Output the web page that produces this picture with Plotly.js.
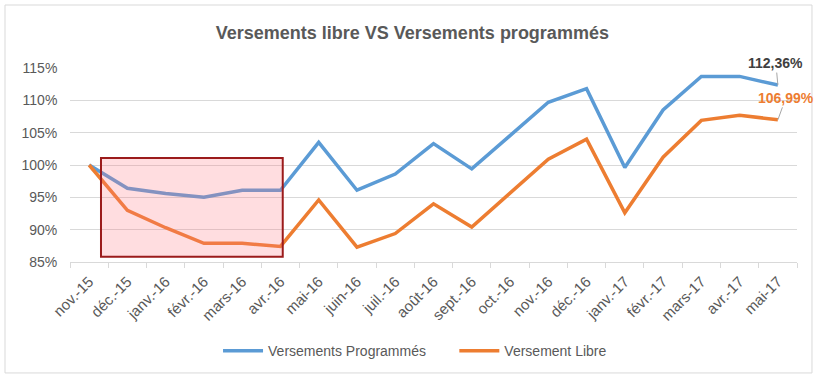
<!DOCTYPE html>
<html>
<head>
<meta charset="utf-8">
<script src="https://cdn.plot.ly/plotly-3.0.1.min.js"></script>
<style>html,body{margin:0;padding:0;background:#fff;}#chart{width:833px;height:381px;}</style>
</head>
<body>
<div id="chart"></div>
<script>
const months = ["nov.-15","déc.-15","janv.-16","févr.-16","mars-16","avr.-16","mai-16","juin-16","juil.-16","août-16","sept.-16","oct.-16","nov.-16","déc.-16","janv.-17","févr.-17","mars-17","avr.-17","mai-17"];
const programmes = [100.0, 96.4, 95.6, 95.0, 96.1, 96.1, 103.5, 96.1, 98.6, 103.3, 99.4, 104.6, 109.7, 111.8, 99.6, 108.5, 113.7, 113.7, 112.36];
const libre = [100.0, 93.0, 90.3, 87.9, 87.9, 87.4, 94.6, 87.3, 89.4, 94.0, 90.4, 95.7, 100.9, 104.0, 92.6, 101.2, 106.9, 107.7, 106.99];
const yTicks = [85, 90, 95, 100, 105, 110, 115];
const yTickText = ["85%", "90%", "95%", "100%", "105%", "110%", "115%"];
const labelProg = "112,36%";
const labelLibre = "106,99%";
const seriesNames = ["Versements Programmés", "Versement Libre"];

const FONT = "Arial, 'Liberation Sans', sans-serif";
const GRAY = "#595959";
const PAD = "\u00a0\u00a0\u00a0";

const traces = [
  {x: months, y: programmes, type: "scatter", mode: "lines", name: seriesNames[0] + "&nbsp;&nbsp;&nbsp;&nbsp;&nbsp;&nbsp;",
   line: {color: "#5b9bd5", width: 3.5}},
  {x: months, y: libre, type: "scatter", mode: "lines", name: seriesNames[1],
   line: {color: "#ed7d31", width: 3.5}}
];

const layout = {
  width: 833, height: 381,
  margin: {l: 70, r: 36, t: 68, b: 119},
  paper_bgcolor: "#fff", plot_bgcolor: "#fff",
  font: {family: FONT, color: GRAY, size: 13},
  title: {text: "<b>Versements libre VS Versements programmés</b>", x: 0.495, xanchor: "center", y: 0.915, yanchor: "middle",
          font: {family: FONT, size: 18, color: GRAY}},
  xaxis: {type: "category", range: [-0.5, 18.5], tickangle: -45, showgrid: false, zeroline: false,
          showline: true, linecolor: "#d9d9d9", linewidth: 1, ticks: "outside", ticklen: 5, tickcolor: "#d9d9d9",
          tickson: "boundaries", ticklabelstandoff: 4, tickfont: {family: FONT, size: 15, color: GRAY}, fixedrange: true},
  yaxis: {range: [85, 115], tickvals: yTicks, ticktext: yTickText.map(t => t + PAD), showgrid: true, gridcolor: "#d9d9d9", gridwidth: 1,
          zeroline: false, showline: false, ticks: "",
          tickfont: {family: FONT, size: 14, color: GRAY}, fixedrange: true},
  showlegend: true,
  legend: {orientation: "h", x: 0.4746, xanchor: "center", y: -0.459, yanchor: "middle",
           font: {family: FONT, size: 14, color: GRAY}, itemwidth: 40, tracegroupgap: 0},
  shapes: [
    {type: "rect", xref: "paper", yref: "paper", x0: -0.0894, x1: 1.0206, y0: -0.572, y1: 1.3247,
     line: {color: "#d9d9d9", width: 1}, fillcolor: "rgba(0,0,0,0)", layer: "below"},
    {type: "rect", xref: "x", yref: "y", x0: 0.31, x1: 5.06, y0: 85.8, y1: 101.1,
     line: {color: "#9b1b1b", width: 2}, fillcolor: "rgba(255,120,130,0.25)", layer: "above"}
  ],
  annotations: [
    {x: 18, y: programmes[18], xref: "x", yref: "y", text: "<b>" + labelProg + "</b>", showarrow: true,
     arrowhead: 0, arrowwidth: 1, arrowcolor: "#a6a6a6", ax: -2, ay: -22, font: {family: FONT, size: 14, color: "#404040"}},
    {x: 18, y: libre[18], xref: "x", yref: "y", text: "<b>" + labelLibre + "</b>", showarrow: true,
     arrowhead: 0, arrowwidth: 1, arrowcolor: "#a6a6a6", ax: 8, ay: -22, font: {family: FONT, size: 14, color: "#ed7d31"}}
  ]
};

Plotly.newPlot("chart", traces, layout, {displayModeBar: false, staticPlot: true});
</script>
</body>
</html>
